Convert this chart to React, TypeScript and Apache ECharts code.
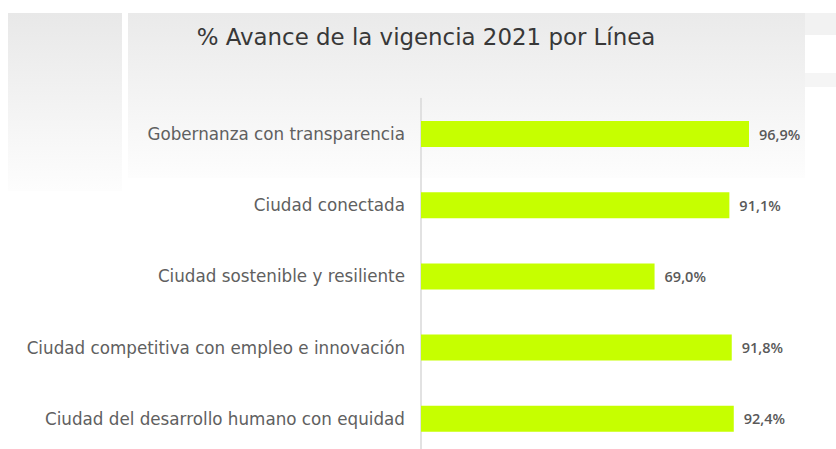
import React, { useEffect, useRef } from "react";
import * as echarts from "echarts";

const titleText = "% Avance de la vigencia 2021 por Línea";
const categories = [
  "Gobernanza con transparencia",
  "Ciudad conectada",
  "Ciudad sostenible y resiliente",
  "Ciudad competitiva con empleo e innovación",
  "Ciudad del desarrollo humano con equidad",
];
const values = [96.9, 91.1, 69.0, 91.8, 92.4];

const labelFont = "'DejaVu Sans', sans-serif";
const valueFont = "'Open Sans', sans-serif";

export default function App() {
  const ref = useRef<HTMLDivElement>(null);
  useEffect(() => {
    if (!ref.current) return;
    const chart = echarts.init(ref.current, undefined, { renderer: "svg" });
    const grad = (a: string, b: string) =>
      new echarts.graphic.LinearGradient(0, 0, 0, 1, [
        { offset: 0, color: a },
        { offset: 1, color: b },
      ]);
    chart.setOption({
      animation: false,
      backgroundColor: "#ffffff",
      title: {
        text: titleText,
        left: 421,
        textAlign: "center",
        top: 20,
        textStyle: {
          fontFamily: labelFont,
          fontSize: 22.9,
          fontWeight: "normal",
          color: "#383838",
        },
      },
      graphic: [
        {
          type: "rect",
          z: -10,
          silent: true,
          shape: { x: 8, y: 13, width: 114, height: 178 },
          style: { fill: grad("#e8e8e8", "#fdfdfd") },
        },
        {
          type: "rect",
          z: -10,
          silent: true,
          shape: { x: 128, y: 13, width: 677, height: 165 },
          style: { fill: grad("#eaeaea", "#fdfdfd") },
        },
        {
          type: "rect",
          z: -10,
          silent: true,
          shape: { x: 805, y: 13, width: 31, height: 22 },
          style: { fill: "#f2f2f2" },
        },
        {
          type: "rect",
          z: -10,
          silent: true,
          shape: { x: 805, y: 73, width: 31, height: 14 },
          style: { fill: "#f5f5f5" },
        },
      ],
      grid: { left: 421, top: 98.4, width: 338.5, height: 356, containLabel: false },
      xAxis: {
        type: "value",
        min: 0,
        max: 100,
        show: false,
      },
      yAxis: {
        type: "category",
        inverse: true,
        data: categories,
        axisLine: { show: true, lineStyle: { color: "#d9d9d9", width: 1.5 } },
        axisTick: { show: false },
        axisLabel: {
          margin: 16,
          color: "#606060",
          fontFamily: labelFont,
          fontSize: 16.75,
        },
      },
      series: [
        {
          type: "bar",
          data: values,
          barWidth: 26,
          itemStyle: { color: "#c6ff00" },
          label: {
            show: true,
            position: "right",
            distance: 10,
            color: "#595959",
            fontFamily: valueFont,
            fontSize: 14.5,
            fontWeight: 600,
            formatter: (p: any) => p.value.toFixed(1).replace(".", ",") + "%",
          },
        },
      ],
    });
    return () => chart.dispose();
  }, []);
  return (
    <div
      style={{
        position: "absolute",
        left: 0,
        top: 0,
        width: 836,
        height: 449,
        overflow: "hidden",
      }}
    >
      <div ref={ref} style={{ width: 836, height: 470 }} />
    </div>
  );
}
